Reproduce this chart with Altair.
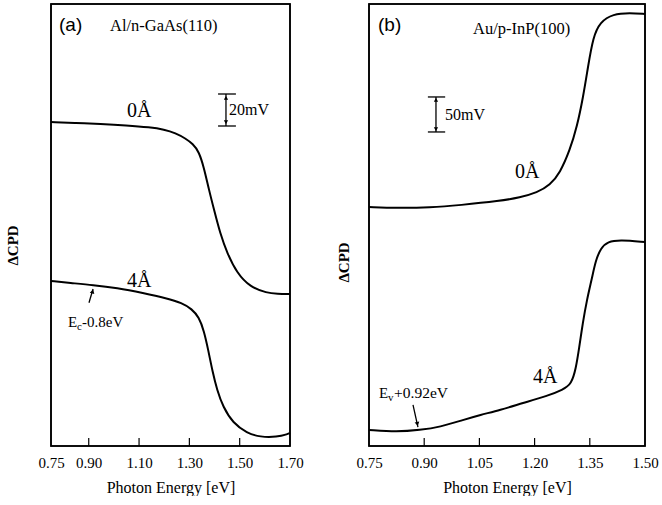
import altair as alt
import pandas as pd

SERIF = "Liberation Serif"
SANS = "Liberation Sans"

# ---------------- Panel (a): Al/n-GaAs(110) ----------------
a_label_vals = [0.75, 0.90, 1.10, 1.30, 1.50, 1.70]
a_tick_vals = [0.90, 1.10, 1.30, 1.50]
a_e0 = [0.75, 0.85, 0.945, 1.05, 1.143, 1.20, 1.245, 1.285, 1.314, 1.338, 1.358, 1.378,
        1.40, 1.422, 1.450, 1.489, 1.541, 1.608, 1.65, 1.70]
a_v0 = [202.5, 201.9, 201.3, 200.4, 199.2, 197.8, 195.6, 192.2, 188.8, 184.0, 174.0, 160.0,
        146.5, 133.1, 120.6, 108.1, 99.4, 95.6, 95.2, 95.0]
a_e4 = [0.75, 0.826, 0.917, 1.012, 1.116, 1.211, 1.27, 1.31, 1.338, 1.358, 1.375, 1.392,
        1.41, 1.434, 1.473, 1.529, 1.581, 1.648, 1.692, 1.70]
a_v4 = [103.1, 101.9, 100.6, 98.75, 95.6, 92.3, 89.4, 85.6, 80.5, 72.0, 60.0, 46.5,
        35.0, 24.4, 14.4, 8.1, 5.6, 5.6, 7.5, 8.1]

# ---------------- Panel (b): Au/p-InP(100) ----------------
b_label_vals = [0.75, 0.90, 1.05, 1.20, 1.35, 1.50]
b_tick_vals = [0.90, 1.05, 1.20, 1.35]
b_e0 = [0.75, 0.826, 0.916, 0.997, 1.106, 1.160, 1.207, 1.242, 1.269, 1.296, 1.315,
        1.332, 1.345, 1.359, 1.378, 1.413, 1.459, 1.50]
b_v0 = [341.4, 340.0, 340.7, 344.0, 350.0, 355.0, 362.0, 372.9, 390.0, 422.9, 455.7,
        498.6, 541.4, 584.3, 605.7, 617.1, 618.6, 617.1]
b_e4 = [0.75, 0.826, 0.889, 0.943, 1.005, 1.052, 1.106, 1.168, 1.234, 1.277, 1.300,
        1.312, 1.321, 1.331, 1.342, 1.356, 1.366, 1.380, 1.399, 1.432, 1.50]
b_v4 = [22.9, 20.0, 22.9, 27.1, 37.1, 44.3, 51.4, 61.4, 71.4, 80.5, 88.5,
        110.0, 140.0, 176.0, 208.6, 240.0, 265.0, 283.0, 292.0, 294.3, 291.4]

A_W, B_W, H = 239, 276, 442
A_XDOM, B_XDOM = [0.75, 1.70], [0.75, 1.50]
A_YDOM, B_YDOM = [0, 276.25], [0, 631.4]


def curves_df(e0, v0, e4, v4):
    return pd.DataFrame({
        "e": e0 + e4,
        "v": v0 + v4,
        "s": ["0"] * len(e0) + ["4"] * len(e4),
    })


def text_layer(text, e, v, size, font=SERIF, baseline="alphabetic", dx=0, dy=0, weight="normal"):
    df = pd.DataFrame({"e": [e], "v": [v], "t": [text]})
    return alt.Chart(df).mark_text(
        align="left", baseline=baseline, font=font, fontSize=size,
        fontWeight=weight, color="black", dx=dx, dy=dy
    ).encode(x=alt.X("e:Q"), y=alt.Y("v:Q"), text="t:N")


def seg_layer(e1, v1, e2, v2, width=1.3):
    df = pd.DataFrame({"e": e1, "v": v1, "e2": e2, "v2": v2})
    return alt.Chart(df).mark_rule(color="black", strokeWidth=width).encode(
        x=alt.X("e:Q"), y=alt.Y("v:Q"), x2="e2:Q", y2="v2:Q")


def head_layer(e, v, shape, angle, size):
    df = pd.DataFrame({"e": [e], "v": [v]})
    return alt.Chart(df).mark_point(
        shape=shape, angle=angle, size=size, filled=True, color="black", opacity=1
    ).encode(x=alt.X("e:Q"), y=alt.Y("v:Q"))


def panel(cdf, xdom, ydom, w, label_vals, tick_vals, ytitle_pad, ytitle_y, extras):
    x = alt.X("e:Q", scale=alt.Scale(domain=xdom, nice=False, zero=False),
              axis=alt.Axis(title="Photon Energy [eV]", values=label_vals, format=".2f",
                            ticks=False, domain=False, grid=False, labelFlush=False,
                            labelFont=SERIF, labelFontSize=15, labelColor="black",
                            labelPadding=9, titleFont=SERIF, titleFontSize=16,
                            titleFontWeight="normal", titleColor="black", titlePadding=9))
    y = alt.Y("v:Q", scale=alt.Scale(domain=ydom, nice=False, zero=False),
              axis=alt.Axis(title="ΔCPD", labels=False, ticks=False, domain=False, grid=False,
                            titleFont=SERIF, titleFontSize=15, titleFontWeight="bold",
                            titleColor="black", titlePadding=ytitle_pad, titleY=ytitle_y))
    lines = alt.Chart(cdf).mark_line(
        interpolate="basis", color="black", strokeWidth=2
    ).encode(x=x, y=y, detail="s:N")
    tdf = pd.DataFrame({"e": tick_vals})
    ticks = alt.Chart(tdf).mark_rule(color="black", strokeWidth=1.2).encode(
        x=alt.X("e:Q"), y=alt.value(H), y2=alt.value(H - 8))
    frame = alt.Chart(pd.DataFrame({"k": [0]})).mark_rect(
        filled=False, stroke="black", strokeWidth=1.6, fill=None
    ).encode(x=alt.value(0), x2=alt.value(w), y=alt.value(0), y2=alt.value(H))
    return alt.layer(lines, ticks, frame, *extras).properties(width=w, height=H)


# annotations panel (a)
a_extras = [
    text_layer("(a)", 0.7818, 263.1, 19, font=SANS, baseline="middle"),
    text_layer("Al/n-GaAs(110)", 0.9845, 262.5, 16.5, baseline="middle"),
    text_layer("0Å", 1.052, 205.6, 20),
    text_layer("20mV", 1.4575, 210.0, 16, baseline="middle"),
    text_layer("4Å", 1.052, 99.4, 20),
    text_layer("E", 0.8176, 74.4, 15),
    text_layer("c", 0.8176, 74.4, 11, dx=9, dy=3),
    text_layer("-0.8eV", 0.8176, 74.4, 15, dx=14),
    seg_layer([1.4455, 1.414, 1.414], [200.0, 220.0, 200.0], [1.4455, 1.485, 1.485], [220.0, 220.0, 200.0]),
    head_layer(1.4455, 217.6, "triangle-up", 0, 18),
    head_layer(1.4455, 202.4, "triangle-down", 0, 18),
    seg_layer([0.901], [89.5], [0.917], [98.1]),
    head_layer(0.9155, 96.6, "triangle-up", 17, 22),
]

# annotations panel (b)
b_extras = [
    text_layer("(b)", 0.7745, 601.4, 19, font=SANS, baseline="middle"),
    text_layer("Au/p-InP(100)", 1.0326, 595.7, 16.5, baseline="middle"),
    text_layer("50mV", 0.9565, 472.9, 16, baseline="middle"),
    text_layer("0Å", 1.1467, 382.9, 20),
    text_layer("4Å", 1.1957, 90.0, 20),
    text_layer("E", 0.7772, 68.6, 15),
    text_layer("v", 0.7772, 68.6, 11, dx=9, dy=3),
    text_layer("+0.92eV", 0.7772, 68.6, 15.5, dx=15),
    seg_layer([0.932, 0.910, 0.910], [448.6, 498.6, 448.6], [0.932, 0.957, 0.957], [498.6, 498.6, 448.6]),
    head_layer(0.932, 494.5, "triangle-up", 0, 18),
    head_layer(0.932, 452.7, "triangle-down", 0, 18),
    seg_layer([0.8696], [58.6], [0.883], [27.1]),
    head_layer(0.8815, 31.5, "triangle-down", 347, 22),
]

pa = panel(curves_df(a_e0, a_v0, a_e4, a_v4), A_XDOM, A_YDOM, A_W,
           a_label_vals, a_tick_vals, 31, 241, a_extras)
pb = panel(curves_df(b_e0, b_v0, b_e4, b_v4), B_XDOM, B_YDOM, B_W,
           b_label_vals, b_tick_vals, 18, 258, b_extras)

chart = alt.hconcat(pa, pb, spacing=79, bounds="flush").properties(
    padding={"left": 4, "top": 2, "right": 0, "bottom": 0}
).configure(background="white").configure_view(stroke="black", strokeWidth=1.5)

chart.save("out.html", embed_options={"renderer": "svg", "actions": False})
